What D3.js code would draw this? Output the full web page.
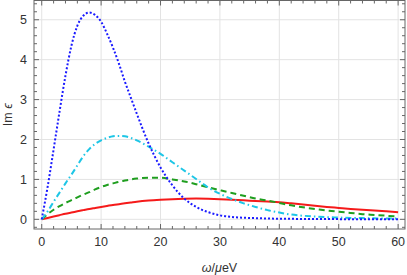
<!DOCTYPE html>
<html>
<head>
<meta charset="utf-8">
<script src="https://cdn.jsdelivr.net/npm/d3@7"></script>
<style>
    body { margin: 0; background: #fff; }
    svg { display: block; font-family: "Liberation Sans", Arial, sans-serif; }
    .frame-line { stroke: #666; stroke-width: 1; }
    .grid-line { stroke: #e3e3e3; stroke-width: 1; }
    .tick-label { fill: #333; font-size: 12.5px; }
    .axis-title { fill: #333; font-size: 12.5px; }
</style>
</head>
<body>
<svg id="chart" width="407" height="275"></svg>
<script>
// omega values (μeV) shared by the curves
const omega = [0, 1, 2, 3, 4, 5, 6, 7, 8, 9, 10, 11, 12, 13, 14, 15, 16, 18, 20, 22, 24, 26, 28, 30,
               32, 34, 36, 38, 40, 42, 44, 46, 48, 50, 52, 54, 56, 58, 60];

// Im ε
const blueDotted = [0, 0.82, 1.75, 2.7, 3.6, 4.35, 4.85, 5.1, 5.18, 5.12, 4.95, 4.65, 4.3, 3.9, 3.45, 3.05, 2.65,
                    1.9, 1.3, 0.85, 0.52, 0.31, 0.18, 0.1, 0.06, 0.04, 0.03, 0.02, 0.015, 0.012, 0.01, 0.008,
                    0.006, 0.005, 0.004, 0.003, 0.003, 0.002, 0.002];
const cyanDashDot = [0, 0.2, 0.44, 0.67, 0.9, 1.12, 1.35, 1.58, 1.76, 1.89, 1.98, 2.04, 2.08, 2.09, 2.08, 2.04, 1.98,
                     1.82, 1.64, 1.43, 1.22, 1.01, 0.8, 0.64, 0.51, 0.4, 0.31, 0.23, 0.17, 0.12, 0.09, 0.07,
                     0.055, 0.045, 0.035, 0.03, 0.025, 0.02, 0.018];
const greenDashed = [0, 0.13, 0.24, 0.33, 0.41, 0.48, 0.55, 0.62, 0.68, 0.75, 0.81, 0.86, 0.9, 0.94, 0.97, 1.0, 1.02,
                     1.04, 1.04, 1.0, 0.95, 0.88, 0.8, 0.73, 0.66, 0.59, 0.52, 0.47, 0.41, 0.35, 0.3, 0.26,
                     0.22, 0.19, 0.16, 0.13, 0.11, 0.09, 0.07];
const redSolid = [0, 0.035, 0.07, 0.105, 0.14, 0.17, 0.2, 0.23, 0.26, 0.285, 0.31, 0.335, 0.36, 0.38, 0.4, 0.42, 0.44,
                  0.47, 0.49, 0.505, 0.515, 0.52, 0.515, 0.505, 0.49, 0.475, 0.46, 0.445, 0.43, 0.4, 0.37, 0.34,
                  0.31, 0.285, 0.26, 0.24, 0.22, 0.2, 0.18];

const xTicks = [0, 10, 20, 30, 40, 50, 60];
const yTicks = [0, 1, 2, 3, 4, 5];

const series = [
    { values: redSolid, color: "#f51a1a", dash: null },
    { values: greenDashed, color: "#1f9e1f", dash: "6,4" },
    { values: cyanDashDot, color: "#1ec6e6", dash: "6,3,1.5,3" },
    { values: blueDotted, color: "#1a1aff", dash: "2,2" }
];

const frameLeft = 34, frameRight = 405, frameTop = 0.5, frameBottom = 229;

const svg = d3.select("#chart");

const x = d3.scaleLinear().domain([-1.3, 61.16]).range([frameLeft, frameRight]);
const y = d3.scaleLinear().domain([-0.2425, 5.4825]).range([frameBottom, frameTop]);

// grid lines
svg.append("g").selectAll("line")
    .data(xTicks)
    .enter().append("line")
    .attr("class", "grid-line")
    .attr("x1", d => x(d)).attr("x2", d => x(d))
    .attr("y1", frameTop).attr("y2", frameBottom);

svg.append("g").selectAll("line")
    .data(yTicks)
    .enter().append("line")
    .attr("class", "grid-line")
    .attr("x1", frameLeft).attr("x2", frameRight)
    .attr("y1", d => y(d)).attr("y2", d => y(d));

// curves
const line = d3.line()
    .x(d => x(d[0]))
    .y(d => y(d[1]))
    .curve(d3.curveMonotoneX);

const plot = svg.append("g");
series.forEach(s => {
    plot.append("path")
        .datum(omega.map((w, i) => [w, s.values[i]]))
        .attr("d", line)
        .attr("fill", "none")
        .attr("stroke", s.color)
        .attr("stroke-width", 2)
        .attr("stroke-dasharray", s.dash);
});

// frame
const frame = svg.append("g");
frame.append("rect")
    .attr("x", frameLeft).attr("y", frameTop)
    .attr("width", frameRight - frameLeft).attr("height", frameBottom - frameTop)
    .attr("fill", "none")
    .attr("class", "frame-line");

// inward ticks on all four sides, major + minor
const xMinor = d3.range(0, 61, 2).filter(v => v % 10 !== 0);
const yMinor = d3.range(-0.2, 5.41, 0.2).map(v => +v.toFixed(1)).filter(v => Math.abs(v - Math.round(v)) > 0.01);

function xTickMarks(values, len) {
    values.forEach(v => {
        frame.append("line").attr("class", "frame-line")
            .attr("x1", x(v)).attr("x2", x(v))
            .attr("y1", frameBottom).attr("y2", frameBottom - len);
        frame.append("line").attr("class", "frame-line")
            .attr("x1", x(v)).attr("x2", x(v))
            .attr("y1", frameTop).attr("y2", frameTop + len);
    });
}
function yTickMarks(values, len) {
    values.forEach(v => {
        frame.append("line").attr("class", "frame-line")
            .attr("x1", frameLeft).attr("x2", frameLeft + len)
            .attr("y1", y(v)).attr("y2", y(v));
        frame.append("line").attr("class", "frame-line")
            .attr("x1", frameRight).attr("x2", frameRight - len)
            .attr("y1", y(v)).attr("y2", y(v));
    });
}
xTickMarks(xTicks, 5);
xTickMarks(xMinor, 3);
yTickMarks(yTicks, 5);
yTickMarks(yMinor, 3);

// tick labels
svg.append("g").selectAll("text")
    .data(xTicks)
    .enter().append("text")
    .attr("class", "tick-label")
    .attr("x", d => x(d))
    .attr("y", 246)
    .attr("text-anchor", "middle")
    .text(d => d);

svg.append("g").selectAll("text")
    .data(yTicks)
    .enter().append("text")
    .attr("class", "tick-label")
    .attr("x", 27)
    .attr("y", d => y(d) + 4.5)
    .attr("text-anchor", "end")
    .text(d => d);

// axis titles
const xTitle = svg.append("text")
    .attr("class", "axis-title")
    .attr("x", (frameLeft + frameRight) / 2)
    .attr("y", 272)
    .attr("text-anchor", "middle");
xTitle.append("tspan").attr("font-style", "italic").text("ω");
xTitle.append("tspan").text("/");
xTitle.append("tspan").attr("font-style", "italic").text("μ");
xTitle.append("tspan").text("eV");

const yTitle = svg.append("text")
    .attr("class", "axis-title")
    .attr("transform", `translate(12, ${(frameTop + frameBottom) / 2}) rotate(-90)`)
    .attr("text-anchor", "middle");
yTitle.append("tspan").text("Im ");
yTitle.append("tspan").attr("font-style", "italic").text("ϵ");
</script>
</body>
</html>
